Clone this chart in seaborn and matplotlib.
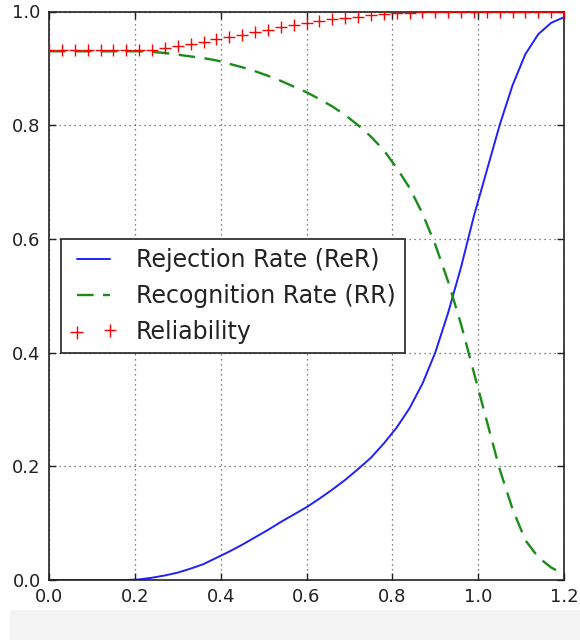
import matplotlib
matplotlib.use("Agg")
import matplotlib.pyplot as plt
import seaborn as sns
import pandas as pd
from matplotlib.patches import Rectangle

thresholds = [0.00, 0.03, 0.06, 0.09, 0.12, 0.15, 0.18, 0.21, 0.24, 0.27,
              0.30, 0.33, 0.36, 0.39, 0.42, 0.45, 0.48, 0.51, 0.54, 0.57,
              0.60, 0.63, 0.66, 0.69, 0.72, 0.75, 0.78, 0.81, 0.84, 0.87,
              0.90, 0.93, 0.96, 0.99, 1.02, 1.05, 1.08, 1.11, 1.14, 1.17, 1.20]

rejection_rate = [0.0, 0.0, 0.0, 0.0, 0.0, 0.0, 0.0, 0.001, 0.004, 0.008,
                  0.013, 0.020, 0.028, 0.039, 0.050, 0.062, 0.075, 0.088, 0.102, 0.115,
                  0.128, 0.143, 0.159, 0.176, 0.195, 0.215, 0.240, 0.268, 0.302, 0.345,
                  0.400, 0.470, 0.550, 0.640, 0.720, 0.800, 0.870, 0.925, 0.960, 0.980, 0.990]

recognition_rate = [0.930, 0.930, 0.930, 0.930, 0.930, 0.930, 0.930, 0.930, 0.929, 0.927,
                    0.924, 0.921, 0.918, 0.914, 0.908, 0.902, 0.895, 0.887, 0.878, 0.868,
                    0.858, 0.846, 0.833, 0.818, 0.800, 0.780, 0.756, 0.725, 0.690, 0.645,
                    0.590, 0.525, 0.450, 0.365, 0.280, 0.195, 0.125, 0.070, 0.040, 0.022, 0.010]

reliability = [0.932, 0.932, 0.932, 0.932, 0.932, 0.932, 0.932, 0.932, 0.933, 0.936,
               0.940, 0.943, 0.946, 0.951, 0.955, 0.959, 0.964, 0.968, 0.972, 0.976,
               0.979, 0.983, 0.986, 0.989, 0.991, 0.993, 0.995, 0.997, 0.998, 0.999,
               1.0, 1.0, 1.0, 1.0, 1.0, 1.0, 1.0, 1.0, 1.0, 1.0, 1.0]

x_ticks = [0.0, 0.2, 0.4, 0.6, 0.8, 1.0, 1.2]
y_ticks = [0.0, 0.2, 0.4, 0.6, 0.8, 1.0]

sns.set_style("ticks")
plt.rcParams['font.family'] = ['DejaVu Sans']
plt.rcParams['xtick.direction'] = 'in'
plt.rcParams['ytick.direction'] = 'in'

df = pd.DataFrame({"t": thresholds, "rer": rejection_rate,
                   "rr": recognition_rate, "rel": reliability})

fig = plt.figure(figsize=(5.8, 6.4), dpi=100)
fig.patch.set_facecolor("white")
fig.patches.append(Rectangle((10 / 580, 0), 1, 30 / 640, transform=fig.transFigure,
                             facecolor="#f3f3f3", edgecolor="none", zorder=0))
ax = fig.add_axes([49 / 580, 1 - 580 / 640, 515 / 580, 568.5 / 640])

sns.lineplot(data=df, x="t", y="rer", ax=ax, color="#2020ff", linewidth=1.4,
             label="Rejection Rate (ReR)")
sns.lineplot(data=df, x="t", y="rr", ax=ax, color="#1a8c1a", linewidth=1.7,
             linestyle="--", label="Recognition Rate (RR)")
sns.scatterplot(data=df, x="t", y="rel", ax=ax, color="#ff0000", marker="+",
                s=85, linewidth=1.0, label="Reliability", zorder=3)
ax.lines[1].set_dashes((7, 4))

ax.set_xlim(0, 1.2)
ax.set_ylim(0, 1.0)
ax.set_xticks(x_ticks)
ax.set_yticks(y_ticks)
ax.set_xticklabels([f"{v:.1f}" for v in x_ticks])
ax.set_yticklabels([f"{v:.1f}" for v in y_ticks])
ax.tick_params(axis="both", which="major", direction="in", length=5, width=1,
               labelsize=13, pad=6, colors="#222222", top=True, right=True)
ax.set_xlabel("Rejection Threshold", fontsize=14, color="#222222", labelpad=4)
ax.set_ylabel("")
ax.grid(True, color="#555555", linestyle=(0, (1, 3)), linewidth=0.9)
for s in ax.spines.values():
    s.set_color("#222222")
    s.set_linewidth(1.2)

leg = ax.legend(loc="lower left", bbox_to_anchor=(0.023, 0.40), borderaxespad=0,
                fontsize=17, numpoints=2, scatterpoints=2, handlelength=2.0,
                handletextpad=0.8, fancybox=False, framealpha=1,
                edgecolor="#222222", borderpad=0.38, labelspacing=0.5)
leg.get_frame().set_linewidth(1.2)
for t in leg.get_texts():
    t.set_color("#222222")

fig.savefig("out.png", dpi=100, facecolor="white")
